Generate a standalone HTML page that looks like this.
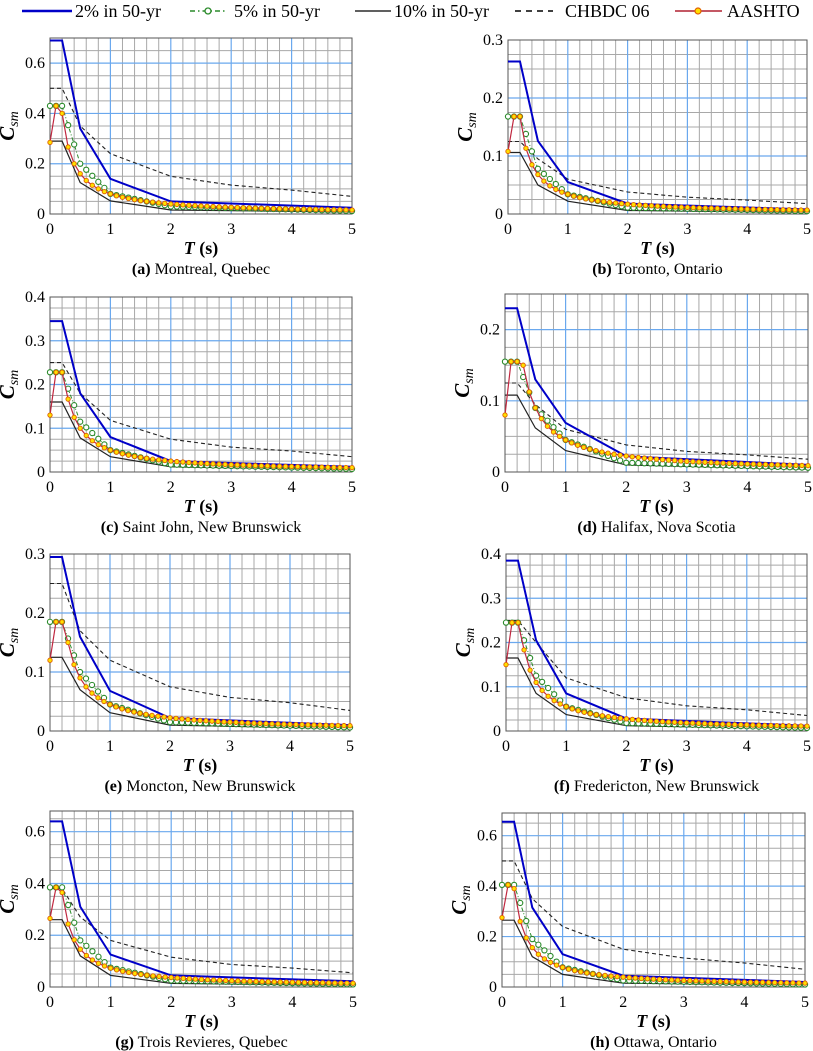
<!DOCTYPE html>
<html><head><meta charset="utf-8"><style>
html,body{margin:0;padding:0;background:#fff}
svg{display:block}
</style></head><body>
<svg id="fig" width="813" height="1051" viewBox="0 0 813 1051" xmlns="http://www.w3.org/2000/svg">
<g id="legend" font-family="'Liberation Serif', serif" font-size="18" fill="#000">
  <g><line x1="22" y1="11" x2="72" y2="11" stroke="#0000c8" stroke-width="2.5"/><text x="75" y="17">2% in 50-yr</text></g>
  <g><line x1="190" y1="11" x2="226" y2="11" stroke="#2a8a2a" stroke-width="1.5" stroke-dasharray="5,3,1.5,3"/><circle cx="208" cy="11" r="3" fill="#fff" stroke="#2a8a2a" stroke-width="1.3"/><text x="234" y="17">5% in 50-yr</text></g>
  <g><line x1="355" y1="11" x2="391" y2="11" stroke="#000" stroke-width="1.2"/><text x="394" y="17">10% in 50-yr</text></g>
  <g><line x1="515" y1="11" x2="553" y2="11" stroke="#000" stroke-width="1.5" stroke-dasharray="6,5"/><text x="565" y="17">CHBDC 06</text></g>
  <g><line x1="675" y1="11" x2="722" y2="11" stroke="#b02030" stroke-width="1.5"/><circle cx="698" cy="11" r="3" fill="#ffe000" stroke="#e06000" stroke-width="1.2"/><text x="727" y="17">AASHTO</text></g>
</g>
</svg>
<script>
// ---- data ----
const panelIds = ['a','b','c','d','e','f','g','h'];
const panelTitles = ['Montreal, Quebec','Toronto, Ontario','Saint John, New Brunswick','Halifax, Nova Scotia','Moncton, New Brunswick','Fredericton, New Brunswick','Trois Revieres, Quebec','Ottawa, Ontario'];
const yMax = [0.7,0.3,0.4,0.25,0.3,0.4,0.68,0.69];
const yMajor = [0.2,0.1,0.1,0.1,0.1,0.1,0.2,0.2];
const xTicks = [0,1,2,3,4,5];
const uhsT = [0,0.2,0.5,1,2,5];
const uhs2 = [
 [0.69,0.69,0.34,0.14,0.05,0.025],
 [0.263,0.263,0.126,0.055,0.018,0.008],
 [0.345,0.345,0.18,0.08,0.025,0.012],
 [0.23,0.23,0.13,0.069,0.022,0.01],
 [0.295,0.295,0.16,0.068,0.022,0.01],
 [0.385,0.385,0.205,0.085,0.028,0.012],
 [0.64,0.64,0.31,0.125,0.045,0.022],
 [0.655,0.655,0.315,0.13,0.045,0.02]];
const uhs5 = [
 [0.43,0.43,0.2,0.08,0.03,0.012],
 [0.168,0.168,0.078,0.034,0.011,0.005],
 [0.228,0.228,0.115,0.05,0.017,0.007],
 [0.155,0.155,0.09,0.045,0.013,0.006],
 [0.185,0.185,0.1,0.045,0.015,0.006],
 [0.245,0.245,0.125,0.055,0.018,0.007],
 [0.385,0.385,0.18,0.075,0.025,0.01],
 [0.405,0.405,0.19,0.078,0.026,0.01]];
const uhs10 = [
 [0.29,0.29,0.125,0.052,0.016,0.008],
 [0.106,0.106,0.05,0.022,0.006,0.003],
 [0.16,0.16,0.078,0.035,0.012,0.005],
 [0.108,0.108,0.062,0.03,0.01,0.004],
 [0.125,0.125,0.07,0.031,0.01,0.004],
 [0.165,0.165,0.085,0.037,0.012,0.005],
 [0.26,0.26,0.12,0.045,0.014,0.006],
 [0.265,0.265,0.12,0.05,0.015,0.007]];
const chbdcT = [0,0.2,0.5,1,2,3,4,5];
const chbdc = [
 [0.5,0.5,0.35,0.24,0.15,0.115,0.095,0.07],
 [0.125,0.125,0.095,0.06,0.038,0.029,0.024,0.018],
 [0.25,0.25,0.18,0.118,0.075,0.057,0.048,0.035],
 [0.125,0.125,0.095,0.06,0.038,0.029,0.024,0.018],
 [0.25,0.25,0.17,0.12,0.075,0.057,0.048,0.035],
 [0.25,0.25,0.2,0.12,0.075,0.057,0.048,0.035],
 [0.38,0.38,0.27,0.18,0.115,0.087,0.073,0.055],
 [0.5,0.5,0.35,0.24,0.15,0.115,0.095,0.07]];
const aashtoAs = [0.285,0.108,0.13,0.08,0.12,0.15,0.265,0.275];
const aashtoSDS = [0.43,0.168,0.228,0.155,0.185,0.245,0.385,0.405];
const aashtoSD1 = [0.08,0.034,0.05,0.045,0.045,0.055,0.073,0.078];

// ---- layout ----
const boxes = [
 [50,352,38,214],[508,807,40,214],
 [50,352,297,472],[505,808,294,472],
 [50,350,554,731],[506,807,554,731],
 [50,353,811,987],[502,805,813,987]];

const NS='http://www.w3.org/2000/svg';
const svg=document.getElementById('fig');
function mk(tag,attrs,parent){const e=document.createElementNS(NS,tag);for(const k in attrs)e.setAttribute(k,attrs[k]);(parent||svg).appendChild(e);return e;}
function interp(T,Ts,Vs){for(let i=0;i<Ts.length-1;i++){if(T<=Ts[i+1]+1e-9){const f=(T-Ts[i])/(Ts[i+1]-Ts[i]);return Vs[i]+f*(Vs[i+1]-Vs[i]);}}return Vs[Vs.length-1];}

panelIds.forEach((pid,p)=>{
  const [L,R,Tp,B]=boxes[p];
  const xs=t=>L+(t/5)*(R-L);
  const ys=v=>B-(v/yMax[p])*(B-Tp);
  const g=mk('g',{});
  
  
  mk('rect',{x:L,y:Tp,width:R-L,height:B-Tp,fill:'#fff'},g);
  const grid=mk('g',{},g);
  
  
  for(let i=1;i<25;i++){const t=i*0.2;if(i%5===0)continue;mk('line',{x1:xs(t),x2:xs(t),y1:Tp,y2:B,stroke:'#a8a8a8','stroke-width':1},grid);}
  const minor=yMajor[p]/4;
  for(let v=minor;v<yMax[p]-1e-6;v+=minor){if(Math.abs(v/yMajor[p]-Math.round(v/yMajor[p]))<1e-6)continue;mk('line',{x1:L,x2:R,y1:ys(v),y2:ys(v),stroke:'#a8a8a8','stroke-width':1},grid);}
  for(let i=1;i<5;i++)mk('line',{x1:xs(i),x2:xs(i),y1:Tp,y2:B,stroke:'#6aa8ee','stroke-width':1.2},grid);
  for(let v=yMajor[p];v<yMax[p]-1e-6;v+=yMajor[p])mk('line',{x1:L,x2:R,y1:ys(v),y2:ys(v),stroke:'#6aa8ee','stroke-width':1.2},grid);
  mk('rect',{x:L,y:Tp,width:R-L,height:B-Tp,fill:'none',stroke:'#555','stroke-width':1},g);
  xTicks.forEach(t=>{const tx=mk('text',{x:xs(t),y:B+20,'text-anchor':'middle','font-family':"'Liberation Serif', serif",'font-size':16},g);tx.textContent=t;
    
    });
  for(let v=0;v<=yMax[p]+1e-6;v+=yMajor[p]){const lbl=Math.abs(v)<1e-9?'0':v.toFixed(1);const ty=mk('text',{x:L-5,y:ys(v)+5,'text-anchor':'end','font-family':"'Liberation Serif', serif",'font-size':16},g);ty.textContent=lbl;
    
    }
  const xt=mk('text',{x:(L+R)/2,y:B+40,'text-anchor':'middle','font-family':"'Liberation Serif', serif",'font-size':18,'font-weight':'bold'},g);
  xt.innerHTML='<tspan font-style="italic">T</tspan> (s)';
  
  
  const cy=(Tp+B)/2, cx=L-36;
  const yt=mk('text',{x:cx,y:cy,transform:`rotate(-90 ${cx} ${cy})`,'text-anchor':'middle','font-family':"'Liberation Serif', serif",'font-size':21,'font-weight':'bold','font-style':'italic'},g);
  yt.innerHTML='C<tspan font-size="14" dy="4" font-weight="normal">sm</tspan>';
  
  
  const cap=mk('text',{x:(L+R)/2,y:B+60,'text-anchor':'middle','font-family':"'Liberation Serif', serif",'font-size':16},g);
  cap.innerHTML='<tspan font-weight="bold">('+pid+')</tspan>  '+panelTitles[p];
  
  
  const pts=(Ts,Vs)=>Ts.map((t,i)=>xs(t).toFixed(1)+','+ys(Vs[i]).toFixed(1)).join(' ');
  const s10=mk('polyline',{points:pts(uhsT,uhs10[p]),fill:'none',stroke:'#222','stroke-width':1.2},g);
  
  
  const sc=mk('polyline',{points:pts(chbdcT,chbdc[p]),fill:'none',stroke:'#222','stroke-width':1.1,'stroke-dasharray':'4,3'},g);
  
  
  const s2=mk('polyline',{points:pts(uhsT,uhs2[p]),fill:'none',stroke:'#0000c8','stroke-width':2},g);
  
  
  const Tg=[];for(let i=0;i<=50;i++)Tg.push(i/10);
  const g5=Tg.map(t=>interp(t,uhsT,uhs5[p]));
  const s5=mk('polyline',{points:pts(Tg,g5),fill:'none',stroke:'#2a8a2a','stroke-width':1,'stroke-dasharray':'4,2,1,2'},g);
  
  
  Tg.forEach((t,i)=>{const c=mk('circle',{cx:xs(t),cy:ys(g5[i]),r:2.6,fill:'#fff',stroke:'#2a8a2a','stroke-width':1.1},g);
    
    });
  const ga=Tg.map(t=>t===0?aashtoAs[p]:Math.min(aashtoSDS[p],aashtoSD1[p]/t));
  const sa=mk('polyline',{points:pts(Tg,ga),fill:'none',stroke:'#c02840','stroke-width':1.2},g);
  
  
  Tg.forEach((t,i)=>{const c=mk('circle',{cx:xs(t),cy:ys(ga[i]),r:2.2,fill:'#ffe000',stroke:'#e06000','stroke-width':0.9},g);
    
    });
});
</script>
</body></html>
